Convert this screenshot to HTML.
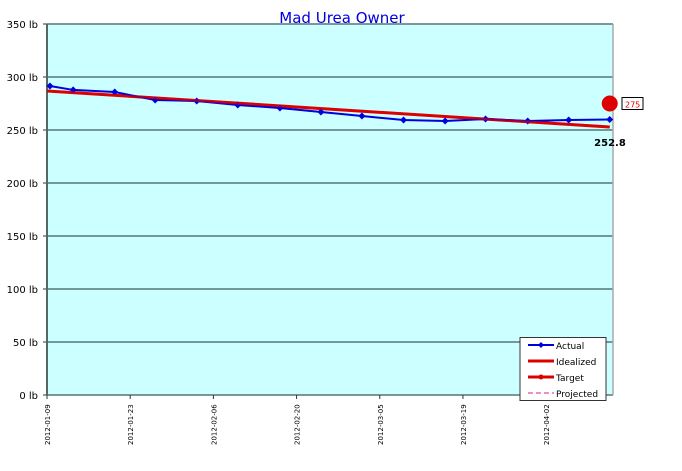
<!DOCTYPE html>
<html><head><meta charset="utf-8"><style>
body{margin:0;background:#fff;}
svg text{font-family:"DejaVu Sans","Liberation Sans",sans-serif;}
</style></head><body>
<svg id="chart" width="682" height="466" viewBox="0 0 682 466" xmlns="http://www.w3.org/2000/svg">
<text x="342" y="23" text-anchor="middle" font-size="15" fill="#0000dd">Mad Urea Owner</text>
<rect x="47" y="24" width="566" height="371" fill="#ccffff"/>
<g id="grid"></g>
<g id="yaxis"></g>
<g id="xaxis"></g>
<g id="series"></g>
<g>
<rect x="520" y="337.5" width="86" height="63" fill="#fff" stroke="#333" stroke-width="1"/>
<g><line x1="528" y1="345" x2="554" y2="345" stroke="#0000dd" stroke-width="2"/><path d="M541 342l3 3-3 3-3-3z" fill="#0000dd"/><text x="556" y="349" font-size="9">Actual</text></g>
<g><line x1="528" y1="361" x2="554" y2="361" stroke="#dd0000" stroke-width="3"/><text x="556" y="365" font-size="9">Idealized</text></g>
<g><line x1="528" y1="377" x2="554" y2="377" stroke="#dd0000" stroke-width="3"/><circle cx="541" cy="377" r="2.5" fill="#dd0000"/><text x="556" y="381" font-size="9">Target</text></g>
<g><line x1="528" y1="393" x2="554" y2="393" stroke="#dd2288" stroke-width="1" stroke-dasharray="5,3"/><text x="556" y="397" font-size="9">Projected</text></g>
</g>
</svg>
<script>
const yTicks=[0,50,100,150,200,250,300,350];
const xTickLabels=["2012-01-09","2012-01-23","2012-02-06","2012-02-20","2012-03-05","2012-03-19","2012-04-02"];
const xTickDays=[0,14,28,42,56,70,84];
const actualDays=[0.5,4.4,11.4,18.2,25.2,32.1,39.2,46.1,53,60,67,73.8,80.9,87.8,94.7];
const actualValues=[291.5,287.8,285.8,278.3,277.4,273.6,270.8,267,263.2,259.4,258.5,260.4,258.5,259.4,259.9];
const idealDays=[0,94.7];
const idealValues=[286.8,252.8];
const targetDay=[94.7];
const targetValue=[275];
const ns="http://www.w3.org/2000/svg";
const X=d=>47+d*(566/95.25);
const Y=v=>395-v*(371/350);
function mk(tag,attrs,parent){const e=document.createElementNS(ns,tag);for(const k in attrs)e.setAttribute(k,attrs[k]);parent.appendChild(e);return e;}
const grid=document.getElementById('grid'),ya=document.getElementById('yaxis'),xa=document.getElementById('xaxis'),ser=document.getElementById('series');
yTicks.forEach(v=>{
 const l=mk('line',{x1:47,x2:613,y1:Y(v),y2:Y(v),stroke:'#557777','stroke-width':1.5},grid);
 
 
 const t=mk('line',{x1:43,x2:47,y1:Y(v),y2:Y(v),stroke:'#333'},ya);
 const tx=mk('text',{x:38,y:Y(v)+4,'text-anchor':'end','font-size':10},ya);
 tx.textContent=v+' lb';
 
 
});
mk('line',{x1:47,x2:47,y1:24,y2:395,stroke:'#556666','stroke-width':2},ya);
mk('line',{x1:613,x2:613,y1:24,y2:395,stroke:'#aaaaaa','stroke-width':1.5},ya);
xTickDays.forEach((d,i)=>{
 mk('line',{x1:X(d),x2:X(d),y1:395,y2:399,stroke:'#333'},xa);
 const tx=mk('text',{transform:`translate(${X(d)+3},445) rotate(-90)`,'font-size':7},xa);
 tx.textContent=xTickLabels[i];
 
 
});
const il=mk('polyline',{points:idealDays.map((d,i)=>X(d)+','+Y(idealValues[i])).join(' '),fill:'none',stroke:'#dd0000','stroke-width':3},ser);


const al=mk('polyline',{points:actualDays.map((d,i)=>X(d)+','+Y(actualValues[i])).join(' '),fill:'none',stroke:'#0000dd','stroke-width':2},ser);


actualDays.forEach((d,i)=>{
 const x=X(d),y=Y(actualValues[i]);
 const p=mk('path',{d:`M${x} ${y-3.5}l3.5 3.5-3.5 3.5-3.5-3.5z`,fill:'#0000dd'},ser);
 
 
});
const il2=mk('polyline',{points:idealDays.map((d,i)=>X(d)+','+Y(idealValues[i])).join(' '),fill:'none',stroke:'#dd0000','stroke-width':2.5,opacity:0.6},ser);
const tc=mk('circle',{cx:X(targetDay[0]),cy:Y(targetValue[0]),r:8,fill:'#dd0000'},ser);


const lb=mk('rect',{x:622,y:Y(targetValue[0])-6,width:21,height:12,fill:'#fff',stroke:'#000','stroke-width':1},ser);
const lt=mk('text',{x:625,y:Y(targetValue[0])+4,'font-size':8,fill:'#dd0000'},ser);
lt.textContent=targetValue[0];


const el=mk('text',{x:610,y:Y(idealValues[1])+19,'text-anchor':'middle','font-size':10,'font-weight':'bold'},ser);
el.textContent=idealValues[1].toFixed(1);


</script>
</body></html>
